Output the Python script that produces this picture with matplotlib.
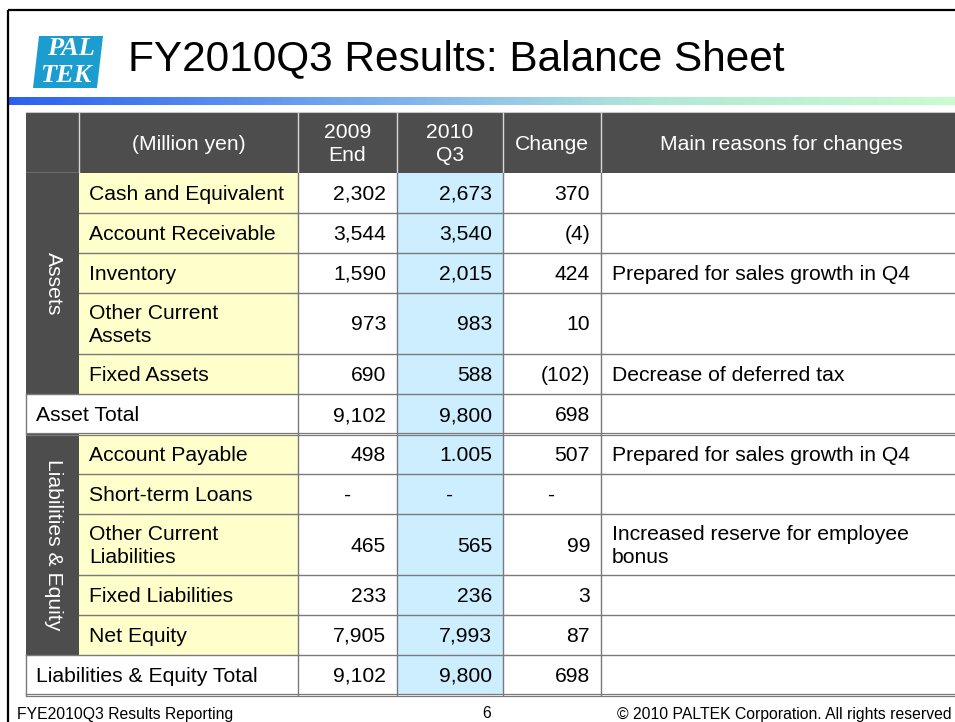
import matplotlib
matplotlib.use("Agg")
import matplotlib.pyplot as plt
from matplotlib.patches import Rectangle, Polygon
from matplotlib.colors import LinearSegmentedColormap
import numpy as np

# ============================================================
# Data
# ============================================================
title = "FY2010Q3 Results: Balance Sheet"
header = ["(Million yen)", "2009\nEnd", "2010\nQ3", "Change", "Main reasons for changes"]

items = ["Cash and Equivalent", "Account Receivable", "Inventory",
         "Other Current\nAssets", "Fixed Assets", "Asset Total",
         "Account Payable", "Short-term Loans", "Other Current\nLiabilities",
         "Fixed Liabilities", "Net Equity", "Liabilities & Equity Total"]
groups = ["Assets"] * 5 + [None] + ["Liabilities & Equity"] * 5 + [None]

end_2009 = ["2,302", "3,544", "1,590", "973", "690", "9,102",
            "498", "-", "465", "233", "7,905", "9,102"]
q3_2010 = ["2,673", "3,540", "2,015", "983", "588", "9,800",
           "1.005", "-", "565", "236", "7,993", "9,800"]
change = ["370", "(4)", "424", "10", "(102)", "698",
          "507", "-", "99", "3", "87", "698"]
reasons = ["", "", "Prepared for sales growth in Q4", "", "Decrease of deferred tax", "",
           "Prepared for sales growth in Q4", "", "Increased reserve for employee\nbonus",
           "", "", ""]

footer_left = "FYE2010Q3 Results Reporting"
footer_page = "6"
footer_right = "\u00a9 2010 PALTEK Corporation. All rights reserved"

# ============================================================
# Layout / style
# ============================================================
W, H = 955, 722
FONT = "Liberation Sans"
FS = 15.2
LS = 1.32
DY = 1.5  # small downward nudge of cell text
DARK = "#4d4d4d"
YELLOW = "#ffffcc"
BLUE = "#cceeff"
GRID = "#7a7a7a"

col_x = [26, 79, 298, 397, 503, 601, 962]
head_top, head_bot = 112, 173
row_single, row_double = 40, 61

fig = plt.figure(figsize=(W / 100, H / 100), dpi=100)
ax = fig.add_axes([0, 0, 1, 1])
ax.set_xlim(0, W)
ax.set_ylim(H, 0)
ax.axis("off")

# slide frame
ax.plot([8, 8], [10, H], color="black", lw=1.6, solid_capstyle="butt")
ax.plot([8, W], [10, 10], color="black", lw=1.6, solid_capstyle="butt")

# logo
ax.add_patch(Polygon([(39, 36), (103, 36), (97, 88), (33, 88)], closed=True,
                     facecolor="#1b9dd0", edgecolor="none"))
ax.text(71, 48.5, "PAL", color="white", fontsize=19, family="Liberation Serif",
        style="italic", weight="bold", ha="center", va="center")
ax.text(66, 75.5, "TEK", color="white", fontsize=19, family="Liberation Serif",
        style="italic", weight="bold", ha="center", va="center")

# title
ax.text(128, 70, title, fontsize=30.5, family=FONT, ha="left", va="baseline")

# gradient rule under title
cmap = LinearSegmentedColormap.from_list(
    "rule", [(0.0, "#2a60f2"), (0.5, "#92c4ea"), (0.68, "#b2e8d6"), (1.0, "#cafcce")])
ax.imshow(np.linspace(0, 1, 256)[None, :], cmap=cmap, aspect="auto",
          extent=(8, W, 105, 97), zorder=1)
ax.set_xlim(0, W)
ax.set_ylim(H, 0)

# ============================================================
# Table
# ============================================================
# header
ax.add_patch(Rectangle((col_x[0], head_top), col_x[-1] - col_x[0], head_bot - head_top,
                       facecolor=DARK, edgecolor="none"))
ax.plot([col_x[0], col_x[-1]], [head_top, head_top], color="#c8c8c8", lw=0.8)
for x in col_x[1:-1]:
    ax.plot([x, x], [head_top, head_bot], color="#d8d8d8", lw=1.0)
ax.plot([col_x[0], col_x[1]], [head_bot, head_bot], color="#e8e8e8", lw=1.0)
for k, txt in enumerate(header):
    xc = (col_x[k + 1] + col_x[k + 2]) / 2
    ax.text(xc, (head_top + head_bot) / 2 + 1.5, txt, color="white", fontsize=FS,
            family=FONT, ha="center", va="center", linespacing=LS)

# body rows
tops = []
y = head_bot
for lab in items:
    h = row_double if "\n" in lab else row_single
    tops.append((y, y + h))
    y += h
table_bot = y

for i, lab in enumerate(items):
    t, b = tops[i]
    yc = (t + b) / 2 + DY
    if groups[i] is not None:
        ax.add_patch(Rectangle((col_x[1], t), col_x[2] - col_x[1], b - t,
                               facecolor=YELLOW, edgecolor="none"))
        lx = col_x[1] + 10
    else:
        lx = col_x[0] + 10
    ax.add_patch(Rectangle((col_x[3], t), col_x[4] - col_x[3], b - t,
                           facecolor=BLUE, edgecolor="none"))
    ax.text(lx, yc, lab, fontsize=FS, family=FONT, ha="left", va="center",
            linespacing=LS)
    for k, val in enumerate([end_2009[i], q3_2010[i], change[i]]):
        left, right = col_x[2 + k], col_x[3 + k]
        if val == "-":
            ax.text((left + right) / 2, yc, val, fontsize=FS, family=FONT,
                    ha="center", va="center")
        else:
            ax.text(right - 11, yc, val, fontsize=FS, family=FONT,
                    ha="right", va="center")
    if reasons[i]:
        ax.text(col_x[5] + 11, yc, reasons[i], fontsize=FS, family=FONT,
                ha="left", va="center", linespacing=LS)

# group label column
for g in ["Assets", "Liabilities & Equity"]:
    idx = [i for i, gg in enumerate(groups) if gg == g]
    t, b = tops[idx[0]][0], tops[idx[-1]][1]
    ax.add_patch(Rectangle((col_x[0], t), col_x[1] - col_x[0], b - t,
                           facecolor=DARK, edgecolor="none", zorder=2))
    ax.text((col_x[0] + col_x[1]) / 2 + 1, (t + b) / 2, g, color="white", fontsize=FS,
            family=FONT, rotation=-90, ha="center", va="center", zorder=3)

# grid lines
for i in range(len(items)):
    t, b = tops[i]
    nxt = groups[i + 1] if i + 1 < len(items) else None
    same = groups[i] is not None and groups[i] == nxt
    x0 = col_x[1] if same else col_x[0]
    if groups[i] is None:
        ax.plot([x0, col_x[-1]], [b - 1.2, b - 1.2], color=GRID, lw=0.9, zorder=4)
        ax.plot([x0, col_x[-1]], [b + 1.2, b + 1.2], color=GRID, lw=0.9, zorder=4)
        ax.plot([col_x[0], col_x[0]], [t, b], color=GRID, lw=1.0, zorder=4)
    else:
        ax.plot([x0, col_x[-1]], [b, b], color=GRID, lw=1.0, zorder=4)
for x in col_x[2:-1]:
    ax.plot([x, x], [head_bot, table_bot], color=GRID, lw=1.0, zorder=4)

# footer
ax.text(17, 714, footer_left, fontsize=11.3, family=FONT, ha="left", va="center")
ax.text(487, 714, footer_page, fontsize=11.3, family=FONT, ha="center", va="center")
ax.text(952, 714, footer_right, fontsize=11.3, family=FONT, ha="right", va="center")

fig.savefig("out.png", dpi=100)
